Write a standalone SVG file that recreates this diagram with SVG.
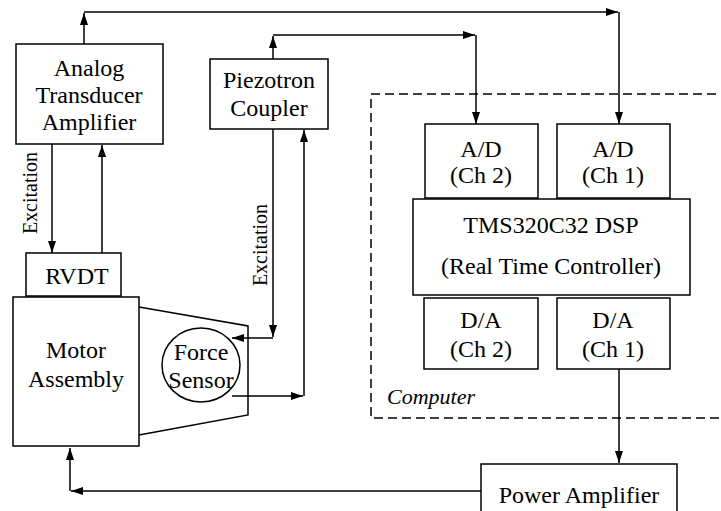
<svg xmlns="http://www.w3.org/2000/svg" width="721" height="511" viewBox="0 0 721 511">
<defs>
<marker id="ah" viewBox="0 0 12 8" refX="12" refY="4" markerWidth="12" markerHeight="8" markerUnits="userSpaceOnUse" orient="auto">
<path d="M0,0 L12,4 L0,8 Z" fill="#000"/>
</marker>
<style>
.box{fill:#fff;stroke:#000;stroke-width:1.5}
.ln{fill:none;stroke:#000;stroke-width:1.5}
.arr{fill:none;stroke:#000;stroke-width:1.5;marker-end:url(#ah)}
text{font-family:'Liberation Serif','Times New Roman',serif;font-size:24px;fill:#000;text-anchor:middle}
.rot{font-size:20px}
.it{font-style:italic;text-anchor:start;font-size:22px}
</style>
</defs>
<rect width="721" height="511" fill="#fff"/>
<g id="computer">
<path d="M730,94 H371 V418 H730" fill="none" stroke="#000" stroke-width="1.5" stroke-dasharray="9 5"/>
<text class="it" x="387" y="404">Computer</text>
</g>
<g id="ata">
<rect class="box" x="16" y="44" width="147" height="100"/>
<text x="89" y="76">Analog</text>
<text x="89" y="103">Transducer</text>
<text x="89" y="130">Amplifier</text>
</g>
<g id="piezotron">
<rect class="box" x="210" y="59" width="118" height="70"/>
<text x="269" y="88">Piezotron</text>
<text x="269" y="116">Coupler</text>
</g>
<g id="ad2">
<rect class="box" x="425" y="124" width="113" height="74"/>
<text x="481" y="157">A/D</text>
<text x="481" y="183">(Ch 2)</text>
</g>
<g id="ad1">
<rect class="box" x="557" y="124" width="113" height="74"/>
<text x="613" y="157">A/D</text>
<text x="613" y="183">(Ch 1)</text>
</g>
<g id="dsp">
<rect class="box" x="413" y="199" width="277" height="96"/>
<text x="551" y="233" font-size="25">TMS320C32 DSP</text>
<text x="551" y="274">(Real Time Controller)</text>
</g>
<g id="da2">
<rect class="box" x="424" y="298" width="114" height="71"/>
<text x="481" y="328">D/A</text>
<text x="481" y="357">(Ch 2)</text>
</g>
<g id="da1">
<rect class="box" x="557" y="298" width="113" height="71"/>
<text x="613" y="328">D/A</text>
<text x="613" y="357">(Ch 1)</text>
</g>
<g id="rvdt">
<rect class="box" x="26" y="253" width="95" height="43"/>
<text x="77" y="284">RVDT</text>
</g>
<g id="motor">
<rect class="box" x="13" y="297" width="126" height="149"/>
<text x="76" y="358">Motor</text>
<text x="76" y="387">Assembly</text>
</g>
<g id="mount">
<path class="ln" d="M139,307 L248,326 L248,415 L139,435"/>
</g>
<g id="force-sensor">
<ellipse cx="201" cy="365" rx="39" ry="37" fill="none" stroke="#000" stroke-width="1.5"/>
<text x="201" y="360">Force</text>
<text x="201" y="388">Sensor</text>
</g>
<g id="power-amp">
<rect class="box" x="481" y="464" width="196" height="60"/>
<text x="579" y="503">Power Amplifier</text>
</g>
<g id="connectors">
<path class="arr" d="M84,44 V13"/>
<path class="arr" d="M84,12 H618"/>
<path class="arr" d="M619,12 V124"/>
<path class="arr" d="M273,59 V36"/>
<path class="arr" d="M273,35 H475"/>
<path class="arr" d="M476,35 V124"/>
<path class="arr" d="M52,144 V253"/>
<path class="arr" d="M102,253 V145"/>
<path class="arr" d="M273,129 V337"/>
<path class="arr" d="M273,338 H232"/>
<path class="arr" d="M232,396 H303"/>
<path class="arr" d="M304,396 V130"/>
<path class="arr" d="M619,369 V463"/>
<path class="arr" d="M481,491 H71"/>
<path class="arr" d="M70,491 V448"/>
<text class="rot" transform="translate(37,193) rotate(-90)">Excitation</text>
<text class="rot" transform="translate(267,245) rotate(-90)">Excitation</text>
</g>
</svg>
